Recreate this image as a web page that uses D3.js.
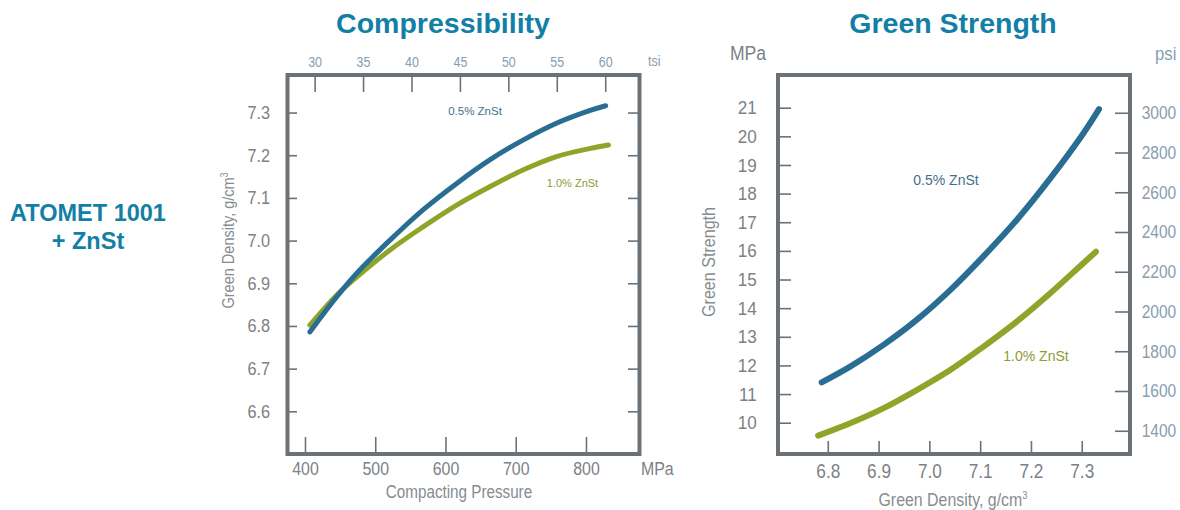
<!DOCTYPE html>
<html>
<head>
<meta charset="utf-8">
<script src="https://cdn.jsdelivr.net/npm/d3@7"></script>
<style>
  html, body { margin: 0; padding: 0; background: #ffffff; }
  svg { display: block; }
  .narrow { font-family: "Liberation Sans", Arial, sans-serif; }
</style>
</head>
<body>
<svg id="chart" width="1180" height="510"></svg>
<script>
// ---------------- DATA ----------------
// Compressibility (left chart)
const compPressure05 = [407, 445, 478, 521, 568, 616, 663, 711, 758, 806, 828];
const compDensity05  = [6.786, 6.868, 6.931, 7.001, 7.072, 7.134, 7.189, 7.236, 7.275, 7.305, 7.316];
const compPressure10 = [407, 445, 474, 521, 568, 616, 663, 711, 758, 806, 832];
const compDensity10  = [6.802, 6.872, 6.915, 6.978, 7.032, 7.083, 7.126, 7.166, 7.197, 7.216, 7.224];

const compPressureTicks = [400, 500, 600, 700, 800];
const compTsiTicks = [30, 35, 40, 45, 50, 55, 60];
const compDensityTicks = [6.6, 6.7, 6.8, 6.9, 7.0, 7.1, 7.2, 7.3];

// Green strength (right chart)
const gsDensity05  = [6.788, 6.844, 6.909, 6.975, 7.041, 7.106, 7.172, 7.238, 7.303, 7.334];
const gsStrength05 = [11.41, 11.96, 12.71, 13.59, 14.63, 15.80, 17.08, 18.53, 20.10, 20.95];
const gsDensity10  = [6.781, 6.844, 6.909, 6.975, 7.041, 7.106, 7.172, 7.238, 7.303, 7.328];
const gsStrength10 = [9.55, 9.98, 10.50, 11.14, 11.84, 12.65, 13.53, 14.52, 15.57, 15.97];

const gsDensityTicks = [6.8, 6.9, 7.0, 7.1, 7.2, 7.3];
const gsMPaTicks = [10, 11, 12, 13, 14, 15, 16, 17, 18, 19, 20, 21];
const gsPsiTicks = [1400, 1600, 1800, 2000, 2200, 2400, 2600, 2800, 3000];

const seriesNames = ["0.5% ZnSt", "1.0% ZnSt"];
const MPA_PER_TSI = 13.79;

// ---------------- STYLE ----------------
const titleColor = "#137fa6";
const frameColor = "#6b7277";
const tickTextColor = "#7c8186";
const altTextColor = "#879db0";
const blueColor = "#2a6d93";
const greenColor = "#8ea52a";
const blueLabel = "#3f6f8c";
const greenLabel = "#8f9a36";

const svg = d3.select("#chart");

// condense text horizontally (narrow typeface look) with a scale transform
function condense(sel, factor) {
  sel.each(function () {
    const t = d3.select(this);
    const prev = t.attr("transform") || "";
    const x = +(t.attr("x") || 0);
    t.attr("x", x / factor).attr("transform", (prev + ` scale(${factor},1)`).trim());
  });
}

// Titles
svg.append("text").attr("x", 443).attr("y", 33).attr("text-anchor", "middle")
  .attr("font-family", "Liberation Sans, Arial, sans-serif").attr("font-weight", "bold")
  .attr("font-size", 28.5).attr("fill", titleColor).text("Compressibility");
svg.append("text").attr("x", 953).attr("y", 33).attr("text-anchor", "middle")
  .attr("font-family", "Liberation Sans, Arial, sans-serif").attr("font-weight", "bold")
  .attr("font-size", 28.5).attr("fill", titleColor).text("Green Strength");
const side = svg.append("text").attr("text-anchor", "middle")
  .attr("font-family", "Liberation Sans, Arial, sans-serif").attr("font-weight", "bold")
  .attr("font-size", 23.5).attr("fill", titleColor);
side.append("tspan").attr("x", 88).attr("y", 221).text("ATOMET 1001");
side.append("tspan").attr("x", 88).attr("y", 249).text("+ ZnSt");

function styleAxis(g, fontSize, color, factor) {
  g.select(".domain").remove();
  g.selectAll(".tick line").attr("stroke", frameColor).attr("stroke-width", 1.6);
  const t = g.selectAll(".tick text").attr("fill", color).attr("font-size", fontSize)
    .attr("class", "narrow").attr("font-family", null);
  condense(t, factor);
}

// ---------------- LEFT CHART ----------------
{
  const L = 287.5, R = 639.5, T = 75, B = 454;
  const x = d3.scaleLinear().domain([375.1, 876.2]).range([L, R]);
  const y = d3.scaleLinear().domain([6.5, 7.388]).range([B, T]);
  const xTsi = d3.scaleLinear().domain([375.1 / MPA_PER_TSI, 876.2 / MPA_PER_TSI]).range([L, R]);

  const gb = svg.append("g").attr("transform", `translate(0,${B})`)
    .call(d3.axisBottom(x).tickValues(compPressureTicks).tickSizeInner(-17).tickSizeOuter(0).tickPadding(8).tickFormat(d3.format("d")));
  styleAxis(gb, 18.5, tickTextColor, 0.86);

  const gt = svg.append("g").attr("transform", `translate(0,${T})`)
    .call(d3.axisTop(xTsi).tickValues(compTsiTicks).tickSizeInner(-17).tickSizeOuter(0).tickPadding(8.5).tickFormat(d3.format("d")));
  styleAxis(gt, 14.5, altTextColor, 0.86);

  const gl = svg.append("g").attr("transform", `translate(${L},0)`)
    .call(d3.axisLeft(y).tickValues(compDensityTicks).tickSizeInner(-9.5).tickSizeOuter(0).tickPadding(17.5).tickFormat(d3.format(".1f")));
  styleAxis(gl, 18.5, tickTextColor, 0.88);

  const gr = svg.append("g").attr("transform", `translate(${R},0)`)
    .call(d3.axisRight(y).tickValues(compDensityTicks).tickSizeInner(-11.5).tickSizeOuter(0).tickFormat(""));
  styleAxis(gr, 18.5, tickTextColor, 1);

  svg.append("rect").attr("x", L).attr("y", T).attr("width", R - L).attr("height", B - T)
    .attr("fill", "none").attr("stroke", frameColor).attr("stroke-width", 4);

  // Unit labels
  condense(svg.append("text").attr("class", "narrow").attr("x", 648).attr("y", 66.5)
    .attr("font-size", 14.5).attr("fill", altTextColor).text("tsi"), 0.86);
  condense(svg.append("text").attr("class", "narrow").attr("x", 641).attr("y", 475)
    .attr("font-size", 18.5).attr("fill", tickTextColor).text("MPa"), 0.86);
  condense(svg.append("text").attr("class", "narrow").attr("x", 459).attr("y", 498)
    .attr("text-anchor", "middle").attr("font-size", 17.5).attr("fill", "#878c90").text("Compacting Pressure"), 0.87);
  const yl = svg.append("text").attr("class", "narrow")
    .attr("transform", "translate(234,240.5) rotate(-90)")
    .attr("text-anchor", "middle").attr("font-size", 16.5).attr("fill", "#878c90");
  yl.append("tspan").text("Green Density, g/cm");
  yl.append("tspan").attr("font-size", 10).attr("dy", -6).text("3");
  condense(yl, 0.88);

  const line = d3.line().x(d => x(d[0])).y(d => y(d[1])).curve(d3.curveCatmullRom.alpha(0.5));
  const s10 = compPressure10.map((p, i) => [p, compDensity10[i]]);
  const s05 = compPressure05.map((p, i) => [p, compDensity05[i]]);
  svg.append("path").attr("d", line(s10)).attr("fill", "none").attr("stroke", greenColor)
    .attr("stroke-width", 5).attr("stroke-linecap", "round");
  svg.append("path").attr("d", line(s05)).attr("fill", "none").attr("stroke", blueColor)
    .attr("stroke-width", 5).attr("stroke-linecap", "round");

  svg.append("text").attr("x", 475).attr("y", 115).attr("text-anchor", "middle")
    .attr("font-family", "Liberation Sans, Arial, sans-serif").attr("font-size", 11.5)
    .attr("fill", blueLabel).text(seriesNames[0]);
  svg.append("text").attr("x", 572.5).attr("y", 187).attr("text-anchor", "middle")
    .attr("font-family", "Liberation Sans, Arial, sans-serif").attr("font-size", 11)
    .attr("fill", greenLabel).text(seriesNames[1]);
}

// ---------------- RIGHT CHART ----------------
{
  const L = 778, R = 1130, T = 75, B = 454;
  const x = d3.scaleLinear().domain([6.702, 7.395]).range([L, R]);
  const y = d3.scaleLinear().domain([8.907, 22.142]).range([B, T]);
  const yPsi = d3.scaleLinear().domain([1283, 3190]).range([B, T]);

  const gb = svg.append("g").attr("transform", `translate(0,${B})`)
    .call(d3.axisBottom(x).tickValues(gsDensityTicks).tickSizeInner(-13).tickSizeOuter(0).tickPadding(9).tickFormat(d3.format(".1f")));
  styleAxis(gb, 20.5, tickTextColor, 0.84);

  const gl = svg.append("g").attr("transform", `translate(${L},0)`)
    .call(d3.axisLeft(y).tickValues(gsMPaTicks).tickSizeInner(-13).tickSizeOuter(0).tickPadding(21.3).tickFormat(d3.format("d")));
  styleAxis(gl, 19, tickTextColor, 0.9);

  const gr = svg.append("g").attr("transform", `translate(${R},0)`)
    .call(d3.axisRight(yPsi).tickValues(gsPsiTicks).tickSizeInner(-15).tickSizeOuter(0).tickPadding(11.7).tickFormat(d3.format("d")));
  styleAxis(gr, 18.5, altTextColor, 0.84);

  svg.append("rect").attr("x", L).attr("y", T).attr("width", R - L).attr("height", B - T)
    .attr("fill", "none").attr("stroke", frameColor).attr("stroke-width", 4);

  condense(svg.append("text").attr("class", "narrow").attr("x", 730).attr("y", 60)
    .attr("font-size", 19.5).attr("fill", tickTextColor).text("MPa"), 0.9);
  condense(svg.append("text").attr("class", "narrow").attr("x", 1155).attr("y", 60)
    .attr("font-size", 19).attr("fill", altTextColor).text("psi"), 0.88);
  const xl = svg.append("text").attr("class", "narrow").attr("x", 953).attr("y", 506)
    .attr("text-anchor", "middle").attr("font-size", 18.5).attr("fill", "#878c90");
  xl.append("tspan").text("Green Density, g/cm");
  xl.append("tspan").attr("font-size", 11).attr("dy", -7).text("3");
  condense(xl, 0.86);
  condense(svg.append("text").attr("class", "narrow")
    .attr("transform", "translate(715,262) rotate(-90)")
    .attr("text-anchor", "middle").attr("font-size", 18.5).attr("fill", "#878c90").text("Green Strength"), 0.87);

  const line = d3.line().x(d => x(d[0])).y(d => y(d[1])).curve(d3.curveCatmullRom.alpha(0.5));
  const s05 = gsDensity05.map((p, i) => [p, gsStrength05[i]]);
  const s10 = gsDensity10.map((p, i) => [p, gsStrength10[i]]);
  svg.append("path").attr("d", line(s05)).attr("fill", "none").attr("stroke", blueColor)
    .attr("stroke-width", 6).attr("stroke-linecap", "round");
  svg.append("path").attr("d", line(s10)).attr("fill", "none").attr("stroke", greenColor)
    .attr("stroke-width", 6).attr("stroke-linecap", "round");

  svg.append("text").attr("x", 946).attr("y", 184.5).attr("text-anchor", "middle")
    .attr("font-family", "Liberation Sans, Arial, sans-serif").attr("font-size", 14)
    .attr("fill", blueLabel).text(seriesNames[0]);
  svg.append("text").attr("x", 1036).attr("y", 361).attr("text-anchor", "middle")
    .attr("font-family", "Liberation Sans, Arial, sans-serif").attr("font-size", 14)
    .attr("fill", greenLabel).text(seriesNames[1]);
}
</script>
</body>
</html>
